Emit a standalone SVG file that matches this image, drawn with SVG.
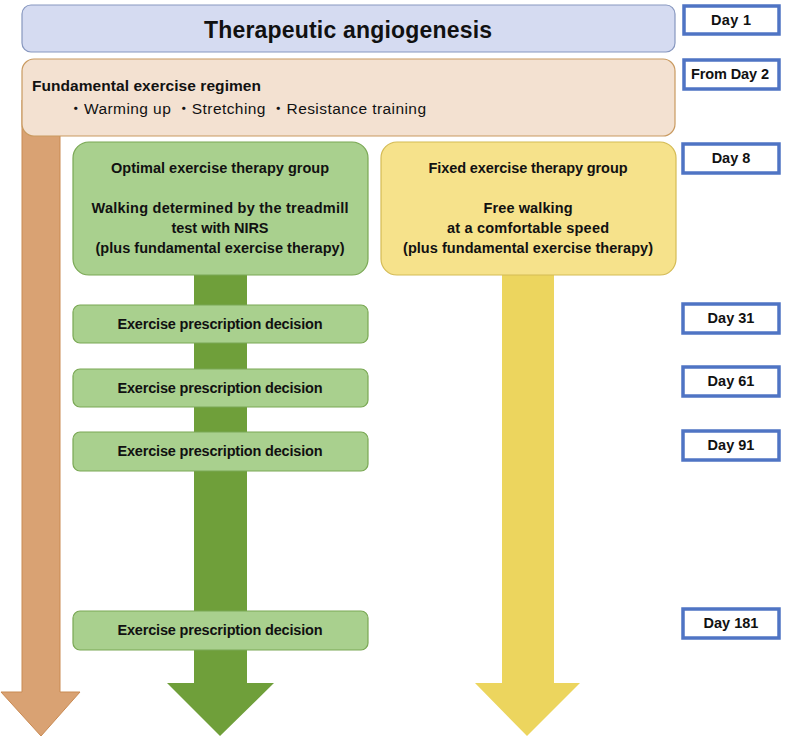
<svg xmlns="http://www.w3.org/2000/svg" width="789" height="737" viewBox="0 0 789 737">
<style>
text{font-family:"Liberation Sans","Noto Sans CJK JP",sans-serif;fill:#111}
.b{font-weight:bold}
.c{text-anchor:middle}
.day{fill:#fff;stroke:#4f74c4;stroke-width:3.5}
.gbox{fill:#a9d08e;stroke:#7aa854;stroke-width:1.2}
.ybox{fill:#f6e28b;stroke:#d4bb55;stroke-width:1.2}
.t14{font-size:14.5px}
.d{font-size:14.5px;font-weight:bold;text-anchor:middle}
</style>
<rect width="789" height="737" fill="#fff"/>
<g id="connectors">
  <path d="M22,100 H60 V692 H80 L41,736 L1,692 H22 Z" fill="#d9a273" stroke="#c98a52" stroke-width="1"/>
  <path d="M194,270 H247 V683 H274 L220,736 L167,683 H194 Z" fill="#6f9f3a"/>
  <path d="M502,270 H554 V683 H580 L527,736 L475,683 H502 Z" fill="#ecd55e"/>
</g>
<g id="title">
  <rect x="22" y="5" width="653" height="47" rx="9" fill="#d5dbf1" stroke="#8797bf" stroke-width="1.2"/>
  <text x="348" y="38" class="b c" font-size="23" textLength="288">Therapeutic angiogenesis</text>
</g>
<g id="regimen">
  <rect x="22" y="59" width="653" height="77" rx="12" fill="#f3e1d1" stroke="#c99a60" stroke-width="1.2"/>
  <text x="32" y="91" class="b" font-size="15.5" textLength="229">Fundamental exercise regimen</text>
  <text x="68" y="114" font-size="15.5" textLength="358">・Warming up ・Stretching ・Resistance training</text>
</g>
<g id="optimal">
  <rect x="73" y="142" width="295" height="133" rx="16" class="gbox"/>
  <text x="220" y="173" class="b c t14" textLength="218">Optimal exercise therapy group</text>
  <text x="220" y="213" class="b c t14" textLength="257">Walking determined by the treadmill</text>
  <text x="220" y="233" class="b c t14" textLength="97">test with NIRS</text>
  <text x="220" y="253" class="b c t14" textLength="249">(plus fundamental exercise therapy)</text>
</g>
<g id="fixed">
  <rect x="381" y="142" width="295" height="133" rx="16" class="ybox"/>
  <text x="528" y="173" class="b c t14" textLength="199">Fixed exercise therapy group</text>
  <text x="528" y="213" class="b c t14" textLength="89">Free walking</text>
  <text x="528" y="233" class="b c t14" textLength="162">at a comfortable speed</text>
  <text x="528" y="253" class="b c t14" textLength="250">(plus fundamental exercise therapy)</text>
</g>
<g id="decision1">
  <rect x="73" y="305" width="295" height="38" rx="7" class="gbox"/>
  <text x="220" y="329" class="b c t14" textLength="205">Exercise prescription decision</text>
</g>
<g id="decision2">
  <rect x="73" y="369" width="295" height="38" rx="7" class="gbox"/>
  <text x="220" y="393" class="b c t14" textLength="205">Exercise prescription decision</text>
</g>
<g id="decision3">
  <rect x="73" y="432" width="295" height="39" rx="7" class="gbox"/>
  <text x="220" y="456" class="b c t14" textLength="205">Exercise prescription decision</text>
</g>
<g id="decision4">
  <rect x="73" y="611" width="295" height="39" rx="7" class="gbox"/>
  <text x="220" y="635" class="b c t14" textLength="205">Exercise prescription decision</text>
</g>
<g id="day1">
  <rect x="684" y="6" width="95" height="28" class="day"/>
  <text x="731" y="25" class="d" textLength="40">Day 1</text>
</g>
<g id="day2">
  <rect x="684" y="60" width="95" height="29" class="day"/>
  <text x="730" y="79" class="d" textLength="78">From Day 2</text>
</g>
<g id="day8">
  <rect x="683" y="144" width="96" height="29" class="day"/>
  <text x="731" y="163" class="d">Day 8</text>
</g>
<g id="day31">
  <rect x="683" y="304" width="96" height="29" class="day"/>
  <text x="731" y="323" class="d">Day 31</text>
</g>
<g id="day61">
  <rect x="683" y="367" width="96" height="29" class="day"/>
  <text x="731" y="386" class="d">Day 61</text>
</g>
<g id="day91">
  <rect x="683" y="431" width="96" height="29" class="day"/>
  <text x="731" y="450" class="d">Day 91</text>
</g>
<g id="day181">
  <rect x="683" y="609" width="96" height="29" class="day"/>
  <text x="731" y="628" class="d">Day 181</text>
</g>
</svg>
